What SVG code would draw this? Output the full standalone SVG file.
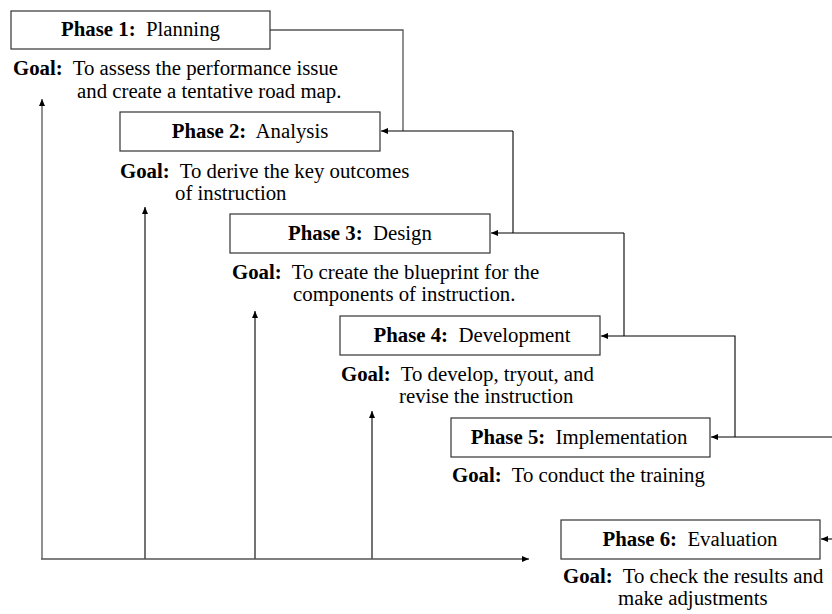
<svg xmlns="http://www.w3.org/2000/svg" width="832" height="614" viewBox="0 0 832 614">
<defs>
<marker id="ah" markerWidth="8" markerHeight="6" refX="7" refY="3" orient="auto" markerUnits="userSpaceOnUse">
<path d="M0,0 L7,3 L0,6 z" fill="#000"/>
</marker>
<style>
.box{fill:#fff;stroke:#333;stroke-width:1.2}
.ln{fill:none;stroke:#000;stroke-width:1.1}
.gl{fill:none;stroke:#555;stroke-width:1.3}
text{font-family:"Liberation Serif","Times New Roman",serif;font-size:20.8px;fill:#000}
.t{text-anchor:middle}
.b{font-weight:bold}
</style>
</defs>
<rect width="832" height="614" fill="#fff"/>
<g id="connectors">
<polyline class="gl" points="270,30 403,30 403,131"/>
<line class="ln" x1="513" y1="131" x2="381" y2="131" marker-end="url(#ah)"/>
<line class="ln" x1="513" y1="131" x2="513" y2="233"/>
<line class="ln" x1="624" y1="233" x2="491" y2="233" marker-end="url(#ah)"/>
<line class="ln" x1="624" y1="233" x2="624" y2="336"/>
<polyline class="ln" points="735,437 735,336 601,336" marker-end="url(#ah)"/>
<line class="ln" x1="832" y1="437" x2="711" y2="437" marker-end="url(#ah)"/>
<line class="ln" x1="832" y1="539" x2="821" y2="539" marker-end="url(#ah)"/>
<line class="gl" x1="42" y1="559" x2="42" y2="99" marker-end="url(#ah)"/>
<line class="ln" x1="145" y1="559" x2="145" y2="207" marker-end="url(#ah)"/>
<line class="ln" x1="255" y1="559" x2="255" y2="311" marker-end="url(#ah)"/>
<line class="ln" x1="372" y1="559" x2="372" y2="411" marker-end="url(#ah)"/>
<line class="gl" x1="41" y1="559" x2="529" y2="559" marker-end="url(#ah)"/>
</g>
<g id="phase1">
<rect class="box" x="11" y="11" width="259" height="38"/>
<text class="t" x="140.5" y="36" xml:space="preserve"><tspan class="b">Phase 1:</tspan>  Planning</text>
<text x="13" y="75" xml:space="preserve"><tspan class="b">Goal:</tspan>  To assess the performance issue</text>
<text x="77" y="97.5">and create a tentative road map.</text>
</g>
<g id="phase2">
<rect class="box" x="120" y="112" width="260" height="39"/>
<text class="t" x="250" y="138" xml:space="preserve"><tspan class="b">Phase 2:</tspan>  Analysis</text>
<text x="120" y="177.5" xml:space="preserve"><tspan class="b">Goal:</tspan>  To derive the key outcomes</text>
<text x="175" y="200">of instruction</text>
</g>
<g id="phase3">
<rect class="box" x="230" y="214" width="260" height="39"/>
<text class="t" x="360" y="240" xml:space="preserve"><tspan class="b">Phase 3:</tspan>  Design</text>
<text x="232" y="278.5" xml:space="preserve"><tspan class="b">Goal:</tspan>  To create the blueprint for the</text>
<text x="293" y="300.5">components of instruction.</text>
</g>
<g id="phase4">
<rect class="box" x="340" y="316" width="260" height="39"/>
<text class="t" x="472" y="342" xml:space="preserve"><tspan class="b">Phase 4:</tspan>  Development</text>
<text x="341" y="381" xml:space="preserve"><tspan class="b">Goal:</tspan>  To develop, tryout, and</text>
<text x="399" y="403">revise the instruction</text>
</g>
<g id="phase5">
<rect class="box" x="451" y="418" width="259" height="39"/>
<text class="t" x="579" y="444" xml:space="preserve"><tspan class="b">Phase 5:</tspan>  Implementation</text>
<text x="452" y="481.5" xml:space="preserve"><tspan class="b">Goal:</tspan>  To conduct the training</text>
</g>
<g id="phase6">
<rect class="box" x="561" y="520" width="259" height="39"/>
<text class="t" x="690" y="546" xml:space="preserve"><tspan class="b">Phase 6:</tspan>  Evaluation</text>
<text x="563" y="582.5" xml:space="preserve"><tspan class="b">Goal:</tspan>  To check the results and</text>
<text x="618" y="604.5">make adjustments</text>
</g>
</svg>
